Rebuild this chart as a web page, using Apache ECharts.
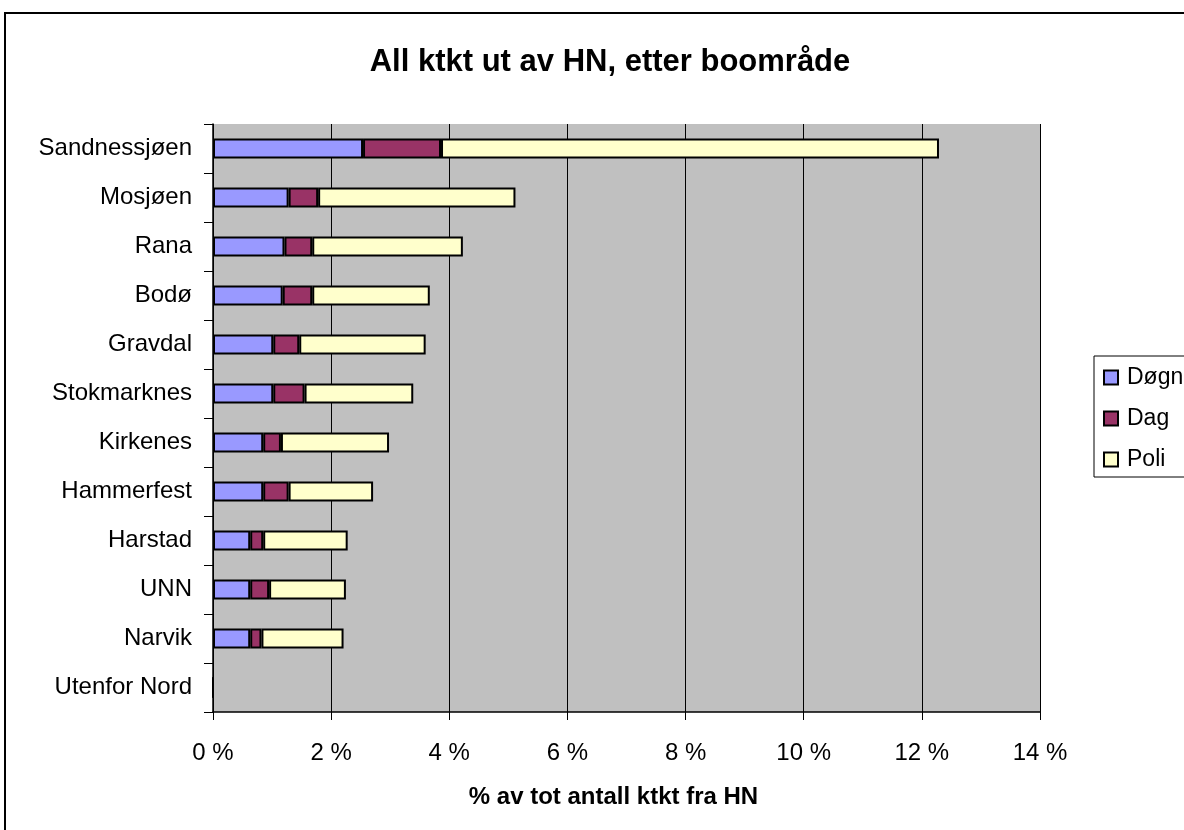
<!DOCTYPE html>
<html>
<head>
<meta charset="utf-8">
<script src="https://cdn.jsdelivr.net/npm/echarts@6/dist/echarts.min.js"></script>
<style>
  html, body { margin: 0; padding: 0; background: #fff; }
  #chart { width: 1184px; height: 830px; }
</style>
</head>
<body>
<div id="chart"></div>
<script>
// boområder, øverst først
var categories = ['Sandnessjøen', 'Mosjøen', 'Rana', 'Bodø', 'Gravdal', 'Stokmarknes',
  'Kirkenes', 'Hammerfest', 'Harstad', 'UNN', 'Narvik', 'Utenfor Nord']
// % av tot antall ktkt fra HN
var dogn = [2.54, 1.28, 1.21, 1.18, 1.02, 1.02, 0.85, 0.85, 0.63, 0.63, 0.63, 0]
var dag = [1.32, 0.50, 0.47, 0.50, 0.44, 0.53, 0.30, 0.43, 0.22, 0.32, 0.19, 0]
var poli = [8.43, 3.34, 2.55, 1.99, 2.14, 1.84, 1.83, 1.43, 1.43, 1.30, 1.39, 0]
var xTicks = [0, 2, 4, 6, 8, 10, 12, 14]

var font = 'Liberation Sans, Arial, sans-serif'
var chart = echarts.init(document.getElementById('chart'))

function mkSeries (name, data, color) {
  return {
    name: name,
    type: 'bar',
    stack: 'tot',
    barWidth: 20,
    data: data,
    itemStyle: { color: color, borderColor: '#000', borderWidth: 2 }
  }
}

chart.setOption({
  animation: false,
  textStyle: { fontFamily: font },
  title: {
    text: 'All ktkt ut av HN, etter boområde',
    left: 605,
    textAlign: 'center',
    top: 42,
    textStyle: { fontSize: 31, fontWeight: 'bold', color: '#000', fontFamily: font }
  },
  // ytre ramme
  graphic: [{
    type: 'rect',
    shape: { x: 5, y: 13, width: 1200, height: 900 },
    style: { fill: 'none', stroke: '#000', lineWidth: 2 }
  }],
  legend: {
    orient: 'vertical',
    left: 1094,
    top: 356,
    padding: [9, 12, 5, 9],
    itemGap: 16,
    itemWidth: 14,
    itemHeight: 14,
    icon: 'rect',
    backgroundColor: '#fff',
    borderColor: '#000',
    borderWidth: 1,
    textStyle: { fontSize: 23, lineHeight: 25, color: '#000', fontFamily: font, padding: [0, 0, 0, 4] },
    data: ['Døgn', 'Dag', 'Poli']
  },
  grid: {
    left: 213,
    right: 144,
    top: 124,
    height: 588,
    show: true,
    backgroundColor: '#c0c0c0',
    borderWidth: 0
  },
  xAxis: {
    type: 'value',
    min: xTicks[0],
    max: xTicks[xTicks.length - 1],
    interval: 2,
    name: '% av tot antall ktkt fra HN',
    nameLocation: 'middle',
    nameGap: 73,
    nameTextStyle: { fontSize: 24, fontWeight: 'bold', color: '#000', fontFamily: font, padding: [0, 26, 0, 0] },
    axisLine: { show: true, lineStyle: { color: '#000', width: 1.5 } },
    axisTick: { show: true, length: 8, lineStyle: { color: '#000' } },
    axisLabel: { formatter: '{value} %', fontSize: 24, color: '#000', margin: 29 },
    splitLine: { show: true, lineStyle: { color: '#000', width: 1 } }
  },
  yAxis: {
    type: 'category',
    inverse: true,
    data: categories,
    axisLine: { show: true, lineStyle: { color: '#000', width: 1.5 } },
    axisTick: { show: true, length: 9, lineStyle: { color: '#000' } },
    axisLabel: { fontSize: 24, color: '#000', margin: 21 },
    splitLine: { show: false }
  },
  series: [
    mkSeries('Døgn', dogn, '#9999ff'),
    mkSeries('Dag', dag, '#993366'),
    mkSeries('Poli', poli, '#ffffcc')
  ]
})
</script>
</body>
</html>
